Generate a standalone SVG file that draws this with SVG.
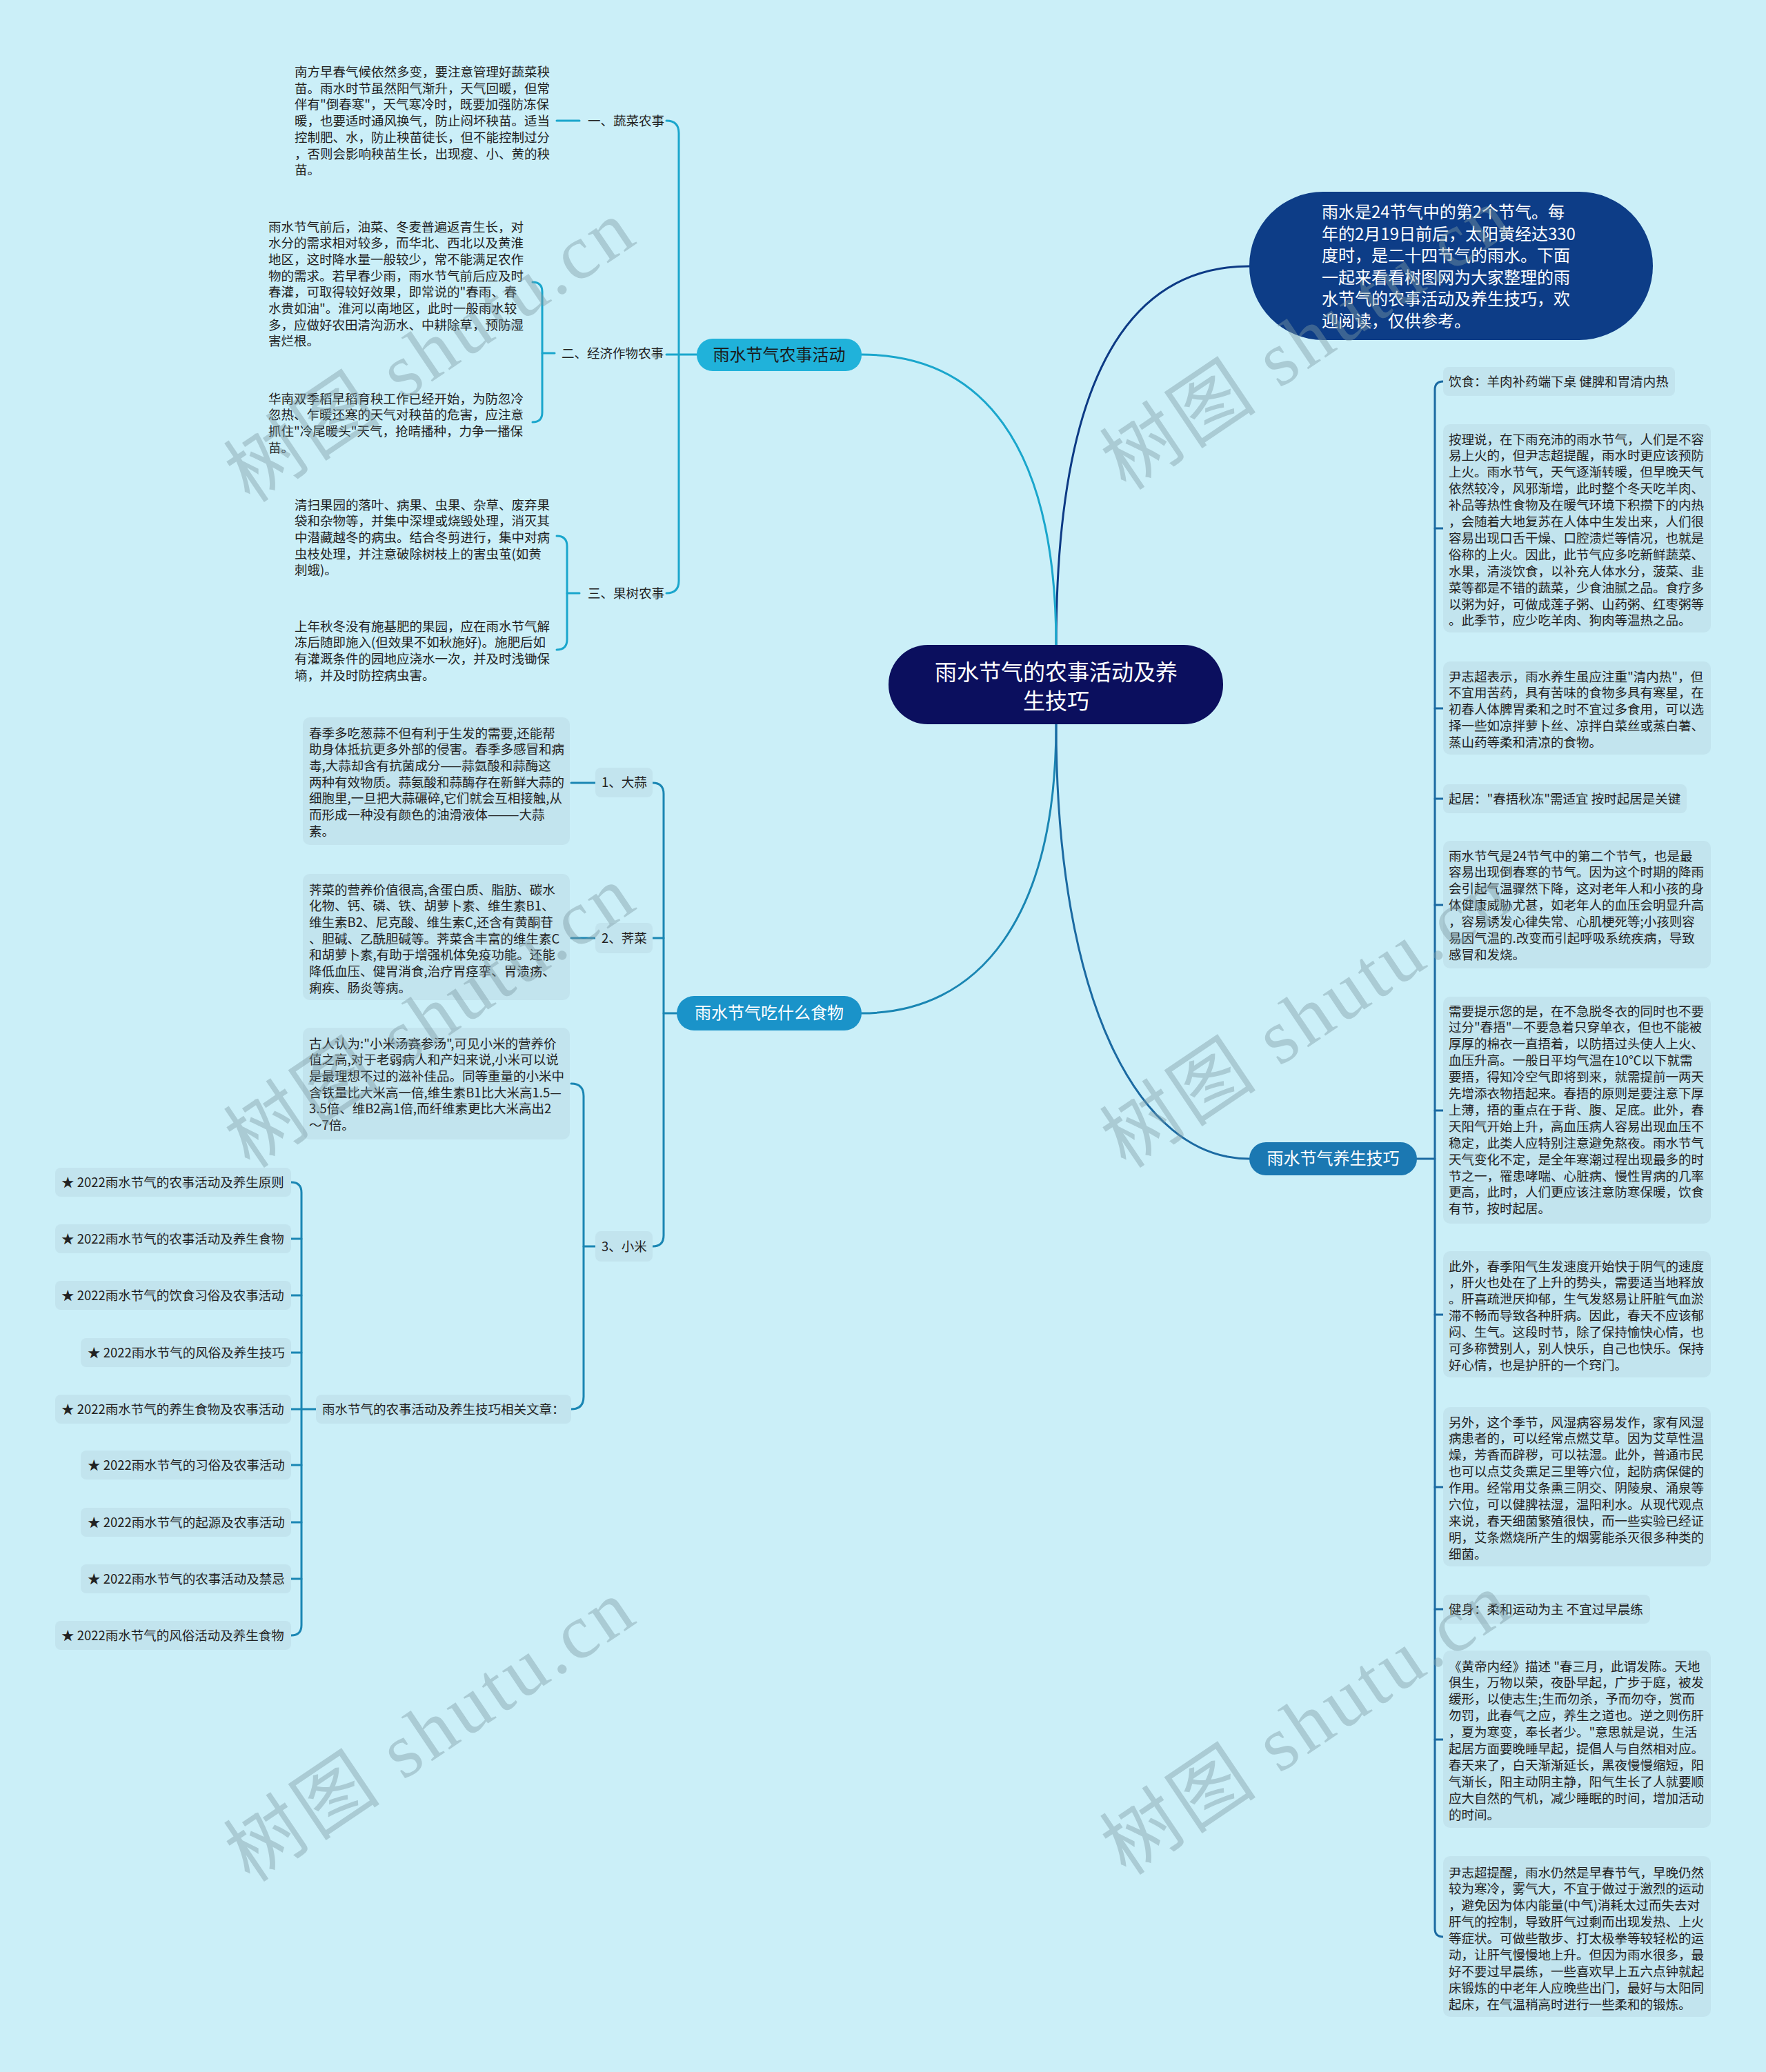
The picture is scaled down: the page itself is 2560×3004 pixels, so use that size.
<svg xmlns="http://www.w3.org/2000/svg" width="2560" height="3004" viewBox="0 0 2560 3004">
<style>
text{font-family:"Noto Sans CJK SC","Noto Sans",sans-serif;}
.t{font-size:18.5px;fill:#222;}
.w{fill:#fff;}
.box{fill:#c2e4ee;}
.c{fill:none;stroke-width:3;stroke-linecap:round;}
.c1{stroke:#1aa6cc;}
.c2{stroke:#1a86b3;}
.c3{stroke:#1b6aa2;}
.wm{font-family:"Liberation Serif","Noto Sans CJK SC",serif;font-size:112px;fill:#7d9aa3;opacity:0.42;letter-spacing:5px;}
</style>
<rect width="2560" height="3004" fill="#cbeff8"/>

<g id="connectors">
<path class="c" stroke="#0d3a85" d="M1531 937 C1531 560 1630 386 1811 386"/>
<path class="c c1" d="M1531 937 C1531 640 1420 514 1249 514"/>
<path class="c c2" d="M1531 1050 C1531 1330 1420 1469 1249 1469"/>
<path class="c c3" d="M1531 1050 C1531 1450 1650 1680 1811 1680"/>
<!-- farming subtree -->
<path class="c c1" d="M1010 514 H966"/>
<path class="c c1" d="M966 175 Q984 175 984 193 V842 Q984 860 966 860"/>
<path class="c c1" d="M807 175 H840"/>
<path class="c c1" d="M804 512 H786"/>
<path class="c c1" d="M772 409 Q786 409 786 423 V598 Q786 612 772 612"/>
<path class="c c1" d="M840 860 H822"/>
<path class="c c1" d="M807 777 Q822 777 822 792 V927 Q822 942 807 942"/>
<!-- food subtree -->
<path class="c c2" d="M981 1469 H962"/>
<path class="c c2" d="M946 1135 Q962 1135 962 1151 V1791 Q962 1807 946 1807"/>
<path class="c c2" d="M946 1360 H962"/>
<path class="c c2" d="M828 1135 H863"/>
<path class="c c2" d="M828 1360 H863"/>
<path class="c c2" d="M863 1807 H846"/>
<path class="c c2" d="M828 1571 Q846 1571 846 1589 V2025 Q846 2043 828 2043"/>
<path class="c c2" d="M458 2043 H437"/>
<path class="c c2" d="M422 1714 Q437 1714 437 1729 V2356 Q437 2371 422 2371"/>
<path class="c c2" d="M422 1796 H437 M422 1878 H437 M422 1961 H437 M422 2043 H437 M422 2124 H437 M422 2207 H437 M422 2289 H437"/>
<!-- health subtree -->
<path class="c c3" d="M2054 1680 H2080"/>
<path class="c c3" d="M2092 553 Q2080 553 2080 565 V2796 Q2080 2808 2092 2808"/>
<path class="c c3" d="M2080 766 H2092 M2080 1027 H2092 M2080 1158 H2092 M2080 1312 H2092 M2080 1610 H2092 M2080 1906 H2092 M2080 2156 H2092 M2080 2333 H2092 M2080 2522 H2092"/>
</g>

<g id="center">
<rect x="1288" y="935" width="485" height="115" rx="57" fill="#0b0f5e"/>
<text class="w" font-size="32" text-anchor="middle"><tspan x="1531" y="986">雨水节气的农事活动及养</tspan><tspan x="1531" y="1028">生技巧</tspan></text>
</g>

<g id="intro">
<rect x="1811" y="278" width="585" height="215" rx="107" fill="#0d3d87"/>
<text class="w" font-size="24"><tspan x="1916" y="316">雨水是24节气中的第2个节气。每</tspan><tspan x="1916" y="347.5">年的2月19日前后，太阳黄经达330</tspan><tspan x="1916" y="379">度时，是二十四节气的雨水。下面</tspan><tspan x="1916" y="410.5">一起来看看树图网为大家整理的雨</tspan><tspan x="1916" y="442">水节气的农事活动及养生技巧，欢</tspan><tspan x="1916" y="473.5">迎阅读，仅供参考。</tspan></text>
</g>

<g id="farming">
<rect x="1010" y="491" width="239" height="47" rx="23" fill="#20b2da"/>
<text font-size="24" fill="#1a1a1a" text-anchor="middle" x="1129.5" y="523">雨水节气农事活动</text>
</g>
<g id="veg-label"><text class="t" x="852" y="181.5">一、蔬菜农事</text></g>
<g id="veg-text"><text class="t"><tspan x="427" y="111">南方早春气候依然多变，要注意管理好蔬菜秧</tspan><tspan x="427" dy="23.7">苗。雨水时节虽然阳气渐升，天气回暖，但常</tspan><tspan x="427" dy="23.7">伴有"倒春寒"，天气寒冷时，既要加强防冻保</tspan><tspan x="427" dy="23.7">暖，也要适时通风换气，防止闷坏秧苗。适当</tspan><tspan x="427" dy="23.7">控制肥、水，防止秧苗徒长，但不能控制过分</tspan><tspan x="427" dy="23.7">，否则会影响秧苗生长，出现瘦、小、黄的秧</tspan><tspan x="427" dy="23.7">苗。</tspan></text></g>
<g id="crop-label"><text class="t" x="814" y="518.5">二、经济作物农事</text></g>
<g id="crop-text-1"><text class="t"><tspan x="389" y="335.5">雨水节气前后，油菜、冬麦普遍返青生长，对</tspan><tspan x="389" dy="23.7">水分的需求相对较多，而华北、西北以及黄淮</tspan><tspan x="389" dy="23.7">地区，这时降水量一般较少，常不能满足农作</tspan><tspan x="389" dy="23.7">物的需求。若早春少雨，雨水节气前后应及时</tspan><tspan x="389" dy="23.7">春灌，可取得较好效果，即常说的"春雨、春</tspan><tspan x="389" dy="23.7">水贵如油"。淮河以南地区，此时一般雨水较</tspan><tspan x="389" dy="23.7">多，应做好农田清沟沥水、中耕除草，预防湿</tspan><tspan x="389" dy="23.7">害烂根。</tspan></text></g>
<g id="crop-text-2"><text class="t"><tspan x="389" y="584.5">华南双季稻早稻育秧工作已经开始，为防忽冷</tspan><tspan x="389" dy="23.7">忽热、乍暖还寒的天气对秧苗的危害，应注意</tspan><tspan x="389" dy="23.7">抓住"冷尾暖头"天气，抢晴播种，力争一播保</tspan><tspan x="389" dy="23.7">苗。</tspan></text></g>
<g id="fruit-label"><text class="t" x="852" y="866.5">三、果树农事</text></g>
<g id="fruit-text-1"><text class="t"><tspan x="427" y="738.5">清扫果园的落叶、病果、虫果、杂草、废弃果</tspan><tspan x="427" dy="23.7">袋和杂物等，并集中深埋或烧毁处理，消灭其</tspan><tspan x="427" dy="23.7">中潜藏越冬的病虫。结合冬剪进行，集中对病</tspan><tspan x="427" dy="23.7">虫枝处理，并注意破除树枝上的害虫茧(如黄</tspan><tspan x="427" dy="23.7">刺蛾)。</tspan></text></g>
<g id="fruit-text-2"><text class="t"><tspan x="427" y="914.5">上年秋冬没有施基肥的果园，应在雨水节气解</tspan><tspan x="427" dy="23.7">冻后随即施入(但效果不如秋施好)。施肥后如</tspan><tspan x="427" dy="23.7">有灌溉条件的园地应浇水一次，并及时浅锄保</tspan><tspan x="427" dy="23.7">墒，并及时防控病虫害。</tspan></text></g>

<g id="food">
<rect x="981" y="1444" width="268" height="50" rx="25" fill="#1a93c9"/>
<text class="w" font-size="24" text-anchor="middle" x="1115" y="1477">雨水节气吃什么食物</text>
</g>
<g id="garlic-label"><rect class="box" x="863" y="1113" width="83" height="43" rx="8"/><text class="t" x="872" y="1141">1、大蒜</text></g>
<g id="garlic-text"><rect class="box" x="439" y="1040" width="387" height="185" rx="10"/><text class="t"><tspan x="448" y="1069.5">春季多吃葱蒜不但有利于生发的需要,还能帮</tspan><tspan x="448" dy="23.7">助身体抵抗更多外部的侵害。春季多感冒和病</tspan><tspan x="448" dy="23.7">毒,大蒜却含有抗菌成分——蒜氨酸和蒜酶这</tspan><tspan x="448" dy="23.7">两种有效物质。蒜氨酸和蒜酶存在新鲜大蒜的</tspan><tspan x="448" dy="23.7">细胞里,一旦把大蒜碾碎,它们就会互相接触,从</tspan><tspan x="448" dy="23.7">而形成一种没有颜色的油滑液体———大蒜</tspan><tspan x="448" dy="23.7">素。</tspan></text></g>
<g id="shepherd-label"><rect class="box" x="863" y="1338" width="83" height="44" rx="8"/><text class="t" x="872" y="1366.5">2、荠菜</text></g>
<g id="shepherd-text"><rect class="box" x="439" y="1267" width="387" height="183" rx="10"/><text class="t"><tspan x="448" y="1296.5">荠菜的营养价值很高,含蛋白质、脂肪、碳水</tspan><tspan x="448" dy="23.7">化物、钙、磷、铁、胡萝卜素、维生素B1、</tspan><tspan x="448" dy="23.7">维生素B2、尼克酸、维生素C,还含有黄酮苷</tspan><tspan x="448" dy="23.7">、胆碱、乙酰胆碱等。荠菜含丰富的维生素C</tspan><tspan x="448" dy="23.7">和胡萝卜素,有助于增强机体免疫功能。还能</tspan><tspan x="448" dy="23.7">降低血压、健胃消食,治疗胃痉挛、胃溃疡、</tspan><tspan x="448" dy="23.7">痢疾、肠炎等病。</tspan></text></g>
<g id="millet-label"><rect class="box" x="863" y="1785" width="83" height="44" rx="8"/><text class="t" x="872" y="1813.5">3、小米</text></g>
<g id="millet-text"><rect class="box" x="439" y="1490" width="387" height="162" rx="10"/><text class="t"><tspan x="448" y="1519.5">古人认为:"小米汤赛参汤",可见小米的营养价</tspan><tspan x="448" dy="23.7">值之高,对于老弱病人和产妇来说,小米可以说</tspan><tspan x="448" dy="23.7">是最理想不过的滋补佳品。同等重量的小米中</tspan><tspan x="448" dy="23.7">含铁量比大米高一倍,维生素B1比大米高1.5—</tspan><tspan x="448" dy="23.7">3.5倍、维B2高1倍,而纤维素更比大米高出2</tspan><tspan x="448" dy="23.7">～7倍。</tspan></text></g>
<g id="articles"><rect class="box" x="458" y="2022" width="370" height="42" rx="8"/><text class="t" x="467" y="2049.5">雨水节气的农事活动及养生技巧相关文章：</text></g>
<g id="article-1"><rect class="box" x="80" y="1693" width="342" height="42" rx="8"/><text class="t" x="89" y="1720.5">★ 2022雨水节气的农事活动及养生原则</text></g>
<g id="article-2"><rect class="box" x="80" y="1775" width="342" height="42" rx="8"/><text class="t" x="89" y="1802.5">★ 2022雨水节气的农事活动及养生食物</text></g>
<g id="article-3"><rect class="box" x="80" y="1857" width="342" height="42" rx="8"/><text class="t" x="89" y="1884.5">★ 2022雨水节气的饮食习俗及农事活动</text></g>
<g id="article-4"><rect class="box" x="117" y="1940" width="305" height="42" rx="8"/><text class="t" x="127" y="1967.5">★ 2022雨水节气的风俗及养生技巧</text></g>
<g id="article-5"><rect class="box" x="80" y="2022" width="342" height="42" rx="8"/><text class="t" x="89" y="2049.5">★ 2022雨水节气的养生食物及农事活动</text></g>
<g id="article-6"><rect class="box" x="117" y="2103" width="305" height="42" rx="8"/><text class="t" x="127" y="2130.5">★ 2022雨水节气的习俗及农事活动</text></g>
<g id="article-7"><rect class="box" x="117" y="2186" width="305" height="42" rx="8"/><text class="t" x="127" y="2213.5">★ 2022雨水节气的起源及农事活动</text></g>
<g id="article-8"><rect class="box" x="117" y="2268" width="305" height="42" rx="8"/><text class="t" x="127" y="2295.5">★ 2022雨水节气的农事活动及禁忌</text></g>
<g id="article-9"><rect class="box" x="80" y="2350" width="342" height="42" rx="8"/><text class="t" x="89" y="2377.5">★ 2022雨水节气的风俗活动及养生食物</text></g>

<g id="health">
<rect x="1811" y="1656" width="243" height="48" rx="24" fill="#1b78b2"/>
<text class="w" font-size="24" text-anchor="middle" x="1932.5" y="1688">雨水节气养生技巧</text>
</g>
<g id="h1"><rect class="box" x="2092" y="532" width="336" height="42" rx="8"/><text class="t" x="2100" y="559.5">饮食：羊肉补药端下桌 健脾和胃清内热</text></g>
<g id="h2"><rect class="box" x="2092" y="615" width="388" height="302" rx="10"/><text class="t"><tspan x="2100" y="643.5">按理说，在下雨充沛的雨水节气，人们是不容</tspan><tspan x="2100" dy="23.9">易上火的，但尹志超提醒，雨水时更应该预防</tspan><tspan x="2100" dy="23.9">上火。雨水节气，天气逐渐转暖，但早晚天气</tspan><tspan x="2100" dy="23.9">依然较冷，风邪渐增，此时整个冬天吃羊肉、</tspan><tspan x="2100" dy="23.9">补品等热性食物及在暖气环境下积攒下的内热</tspan><tspan x="2100" dy="23.9">，会随着大地复苏在人体中生发出来，人们很</tspan><tspan x="2100" dy="23.9">容易出现口舌干燥、口腔溃烂等情况，也就是</tspan><tspan x="2100" dy="23.9">俗称的上火。因此，此节气应多吃新鲜蔬菜、</tspan><tspan x="2100" dy="23.9">水果，清淡饮食，以补充人体水分，菠菜、韭</tspan><tspan x="2100" dy="23.9">菜等都是不错的蔬菜，少食油腻之品。食疗多</tspan><tspan x="2100" dy="23.9">以粥为好，可做成莲子粥、山药粥、红枣粥等</tspan><tspan x="2100" dy="23.9">。此季节，应少吃羊肉、狗肉等温热之品。</tspan></text></g>
<g id="h3"><rect class="box" x="2092" y="959" width="388" height="135" rx="10"/><text class="t"><tspan x="2100" y="987.5">尹志超表示，雨水养生虽应注重"清内热"，但</tspan><tspan x="2100" dy="23.9">不宜用苦药，具有苦味的食物多具有寒星，在</tspan><tspan x="2100" dy="23.9">初春人体脾胃柔和之时不宜过多食用，可以选</tspan><tspan x="2100" dy="23.9">择一些如凉拌萝卜丝、凉拌白菜丝或蒸白薯、</tspan><tspan x="2100" dy="23.9">蒸山药等柔和清凉的食物。</tspan></text></g>
<g id="h4"><rect class="box" x="2092" y="1137" width="353" height="42" rx="8"/><text class="t" x="2100" y="1164.5">起居："春捂秋冻"需适宜 按时起居是关键</text></g>
<g id="h5"><rect class="box" x="2092" y="1219" width="388" height="185" rx="10"/><text class="t"><tspan x="2100" y="1247.5">雨水节气是24节气中的第二个节气，也是最</tspan><tspan x="2100" dy="23.9">容易出现倒春寒的节气。因为这个时期的降雨</tspan><tspan x="2100" dy="23.9">会引起气温骤然下降，这对老年人和小孩的身</tspan><tspan x="2100" dy="23.9">体健康威胁尤甚，如老年人的血压会明显升高</tspan><tspan x="2100" dy="23.9">，容易诱发心律失常、心肌梗死等;小孩则容</tspan><tspan x="2100" dy="23.9">易因气温的.改变而引起呼吸系统疾病，导致</tspan><tspan x="2100" dy="23.9">感冒和发烧。</tspan></text></g>
<g id="h6"><rect class="box" x="2092" y="1445" width="388" height="329" rx="10"/><text class="t"><tspan x="2100" y="1472.5">需要提示您的是，在不急脱冬衣的同时也不要</tspan><tspan x="2100" dy="23.9">过分"春捂"—不要急着只穿单衣，但也不能被</tspan><tspan x="2100" dy="23.9">厚厚的棉衣一直捂着，以防捂过头使人上火、</tspan><tspan x="2100" dy="23.9">血压升高。一般日平均气温在10℃以下就需</tspan><tspan x="2100" dy="23.9">要捂，得知冷空气即将到来，就需提前一两天</tspan><tspan x="2100" dy="23.9">先增添衣物捂起来。春捂的原则是要注意下厚</tspan><tspan x="2100" dy="23.9">上薄，捂的重点在于背、腹、足底。此外，春</tspan><tspan x="2100" dy="23.9">天阳气开始上升，高血压病人容易出现血压不</tspan><tspan x="2100" dy="23.9">稳定，此类人应特别注意避免熬夜。雨水节气</tspan><tspan x="2100" dy="23.9">天气变化不定，是全年寒潮过程出现最多的时</tspan><tspan x="2100" dy="23.9">节之一，罹患哮喘、心脏病、慢性胃病的几率</tspan><tspan x="2100" dy="23.9">更高，此时，人们更应该注意防寒保暖，饮食</tspan><tspan x="2100" dy="23.9">有节，按时起居。</tspan></text></g>
<g id="h7"><rect class="box" x="2092" y="1814" width="388" height="183" rx="10"/><text class="t"><tspan x="2100" y="1842.5">此外，春季阳气生发速度开始快于阴气的速度</tspan><tspan x="2100" dy="23.9">，肝火也处在了上升的势头，需要适当地释放</tspan><tspan x="2100" dy="23.9">。肝喜疏泄厌抑郁，生气发怒易让肝脏气血淤</tspan><tspan x="2100" dy="23.9">滞不畅而导致各种肝病。因此，春天不应该郁</tspan><tspan x="2100" dy="23.9">闷、生气。这段时节，除了保持愉快心情，也</tspan><tspan x="2100" dy="23.9">可多称赞别人，别人快乐，自己也快乐。保持</tspan><tspan x="2100" dy="23.9">好心情，也是护肝的一个窍门。</tspan></text></g>
<g id="h8"><rect class="box" x="2092" y="2040" width="388" height="231" rx="10"/><text class="t"><tspan x="2100" y="2068.5">另外，这个季节，风湿病容易发作，家有风湿</tspan><tspan x="2100" dy="23.9">病患者的，可以经常点燃艾草。因为艾草性温</tspan><tspan x="2100" dy="23.9">燥，芳香而辟秽，可以祛湿。此外，普通市民</tspan><tspan x="2100" dy="23.9">也可以点艾灸熏足三里等穴位，起防病保健的</tspan><tspan x="2100" dy="23.9">作用。经常用艾条熏三阴交、阴陵泉、涌泉等</tspan><tspan x="2100" dy="23.9">穴位，可以健脾祛湿，温阳利水。从现代观点</tspan><tspan x="2100" dy="23.9">来说，春天细菌繁殖很快，而一些实验已经证</tspan><tspan x="2100" dy="23.9">明，艾条燃烧所产生的烟雾能杀灭很多种类的</tspan><tspan x="2100" dy="23.9">细菌。</tspan></text></g>
<g id="h9"><rect class="box" x="2092" y="2312" width="300" height="42" rx="8"/><text class="t" x="2100" y="2339.5">健身：柔和运动为主 不宜过早晨练</text></g>
<g id="h10"><rect class="box" x="2092" y="2393" width="388" height="257" rx="10"/><text class="t"><tspan x="2100" y="2422.5">《黄帝内经》描述 "春三月，此谓发陈。天地</tspan><tspan x="2100" dy="23.9">俱生，万物以荣，夜卧早起，广步于庭，被发</tspan><tspan x="2100" dy="23.9">缓形，以使志生;生而勿杀，予而勿夺，赏而</tspan><tspan x="2100" dy="23.9">勿罚，此春气之应，养生之道也。逆之则伤肝</tspan><tspan x="2100" dy="23.9">，夏为寒变，奉长者少。"意思就是说，生活</tspan><tspan x="2100" dy="23.9">起居方面要晚睡早起，提倡人与自然相对应。</tspan><tspan x="2100" dy="23.9">春天来了，白天渐渐延长，黑夜慢慢缩短，阳</tspan><tspan x="2100" dy="23.9">气渐长，阳主动阴主静，阳气生长了人就要顺</tspan><tspan x="2100" dy="23.9">应大自然的气机，减少睡眠的时间，增加活动</tspan><tspan x="2100" dy="23.9">的时间。</tspan></text></g>
<g id="h11"><rect class="box" x="2092" y="2691" width="388" height="233" rx="10"/><text class="t"><tspan x="2100" y="2721.5">尹志超提醒，雨水仍然是早春节气，早晚仍然</tspan><tspan x="2100" dy="23.9">较为寒冷，雾气大，不宜于做过于激烈的运动</tspan><tspan x="2100" dy="23.9">，避免因为体内能量(中气)消耗太过而失去对</tspan><tspan x="2100" dy="23.9">肝气的控制，导致肝气过剩而出现发热、上火</tspan><tspan x="2100" dy="23.9">等症状。可做些散步、打太极拳等较轻松的运</tspan><tspan x="2100" dy="23.9">动，让肝气慢慢地上升。但因为雨水很多，最</tspan><tspan x="2100" dy="23.9">好不要过早晨练，一些喜欢早上五六点钟就起</tspan><tspan x="2100" dy="23.9">床锻炼的中老年人应晚些出门，最好与太阳同</tspan><tspan x="2100" dy="23.9">起床，在气温稍高时进行一些柔和的锻炼。</tspan></text></g>

<g id="watermarks">
<text class="wm" text-anchor="middle" transform="translate(646 540) rotate(-34)">树图 shutu.cn</text>
<text class="wm" text-anchor="middle" transform="translate(646 1505) rotate(-34)">树图 shutu.cn</text>
<text class="wm" text-anchor="middle" transform="translate(646 2540) rotate(-34)">树图 shutu.cn</text>
<text class="wm" text-anchor="middle" transform="translate(1916 522) rotate(-34)">树图 shutu.cn</text>
<text class="wm" text-anchor="middle" transform="translate(1916 1505) rotate(-34)">树图 shutu.cn</text>
<text class="wm" text-anchor="middle" transform="translate(1916 2530) rotate(-34)">树图 shutu.cn</text>
</g>
</svg>
